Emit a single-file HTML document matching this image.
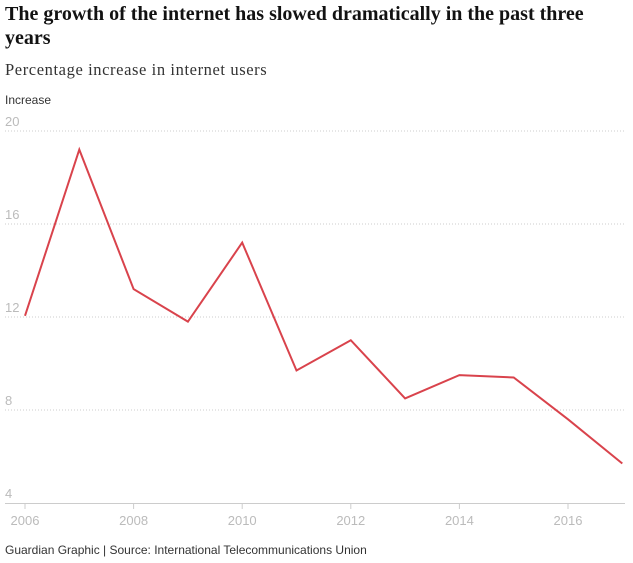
<!DOCTYPE html>
<html><head><meta charset="utf-8"><style>
body{margin:0;background:#fff;width:633px;height:563px;overflow:hidden;position:relative;font-family:"Liberation Sans",sans-serif}
.t{position:absolute;left:5px;top:2px;width:615px;font:bold 20px/24px "Liberation Serif",serif;color:#121212}
.s{position:absolute;left:5px;top:60px;font:16.5px "Liberation Serif",serif;color:#333;letter-spacing:0.6px}
.f{position:absolute;left:5px;top:543px;font:12px "Liberation Sans",sans-serif;color:#333}
</style></head><body>
<div class="t">The growth of the internet has slowed dramatically in the past three years</div>
<div class="s">Percentage increase in internet users</div>
<svg id="c" width="633" height="563" style="position:absolute;left:0;top:0"></svg>
<div class="f">Guardian Graphic | Source: International Telecommunications Union</div>
<script>
const years=[2006,2007,2008,2009,2010,2011,2012,2013,2014,2015,2016,2017];
const values=[12.05,19.2,13.2,11.8,15.2,9.7,11.0,8.5,9.5,9.4,7.6,5.7];
const yTicks=[4,8,12,16,20];
const xTicks=[2006,2008,2010,2012,2014,2016];
const NS="http://www.w3.org/2000/svg";
const svg=document.getElementById('c');
const x=v=>25+(v-2006)*54.3;
const y=v=>503-(v-4)*23.25;
function mk(t,a){const e=document.createElementNS(NS,t);for(const k in a)e.setAttribute(k,a[k]);svg.appendChild(e);return e;}
const yl=mk('text',{x:5,y:104,'font-size':12,fill:'#333','font-family':'Liberation Sans,sans-serif'});yl.textContent='Increase';


yTicks.forEach(v=>{
 if(v>4){const g=mk('line',{x1:5,x2:625,y1:y(v),y2:y(v),stroke:'#ccc','stroke-dasharray':'1,2'});
 
 }
 const t=mk('text',{x:5,y:y(v)-5,'font-size':13,fill:'#bbb'});t.textContent=v;
 
 
});
const ax=mk('line',{x1:5,x2:625,y1:503.5,y2:503.5,stroke:'#ccc'});


xTicks.forEach(v=>{
 const k=mk('line',{x1:x(v),x2:x(v),y1:503,y2:509,stroke:'#ccc'});
 
 
 const t=mk('text',{x:x(v),y:525,'font-size':13,fill:'#bbb','text-anchor':'middle'});t.textContent=v;
 
 
});
const p=mk('polyline',{points:years.map((yr,i)=>x(yr)+','+y(values[i])).join(' '),fill:'none',stroke:'#d9434c','stroke-width':2,'stroke-linejoin':'miter'});


</script>
</body></html>
